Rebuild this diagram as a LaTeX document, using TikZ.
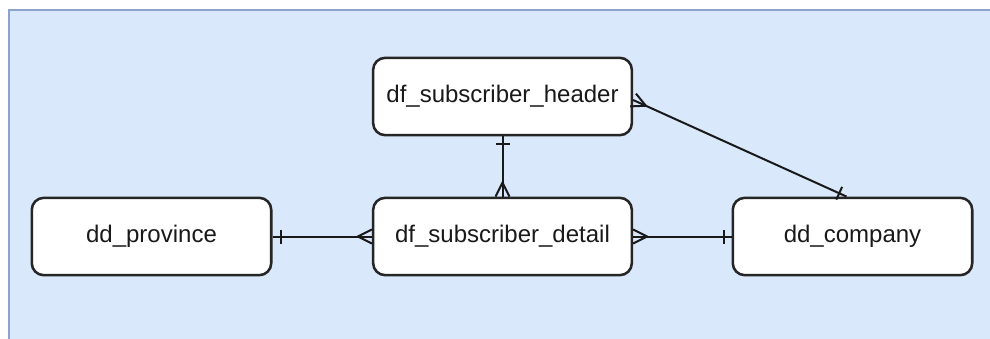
\documentclass[tikz,border=0pt]{standalone}
\usepackage{fontspec}
\setmainfont{Liberation Sans}
\usetikzlibrary{calc}
\definecolor{bgfill}{HTML}{DAE8FC}
\definecolor{bgline}{HTML}{8EA2CE}
\newcommand\ercrow[2]{% foot at #1, line towards #2
  \draw[rel] ($(#1)!5.25pt!90:(#2)$) -- ($(#1)!10.5pt!(#2)$) -- ($(#1)!5.25pt!-90:(#2)$);}
\newcommand\erbar[2]{% bar near #1, line towards #2
  \draw[rel] ($($(#1)!6pt!(#2)$)!5.25pt!90:(#2)$) -- ($($(#1)!6pt!(#2)$)!5.25pt!-90:(#2)$);}
\begin{document}
\begin{tikzpicture}[x=0.75pt,y=-0.75pt,
  entity/.style={draw=black!85,line width=1.9pt,fill=white,rounded corners=9pt,
    minimum height=58pt,inner sep=0pt,font=\fontsize{18}{21}\selectfont,text=black!90},
  wide/.style={entity,minimum width=194pt},
  narrow/.style={entity,minimum width=179.6pt},
  rel/.style={line width=1.5pt,draw=black!90}]
\useasboundingbox (0,0) rectangle (990,339);
\fill[bgfill] (9,10) rectangle (1000,350);
\draw[bgline,line width=1.6pt] (9,350) -- (9,10) -- (1000,10);

\node[wide] (header) at (502.5,96.5) {df\_subscriber\_header};
\node[wide] (detail) at (502.5,236.5) {df\_subscriber\_detail};
\node[narrow] (province) at (151.5,236.5) {dd\_province};
\node[narrow] (company) at (852.5,236.5) {dd\_company};

\coordinate (hc) at ($(header.east)+(0,3.5)$);
\coordinate (ch) at ($(company.north)+(-6,0)$);

\draw[rel] (header.south) -- (detail.north);
\erbar{header.south}{detail.north}
\ercrow{detail.north}{header.south}

\draw[rel] (province.east) -- (detail.west);
\erbar{province.east}{detail.west}
\ercrow{detail.west}{province.east}

\draw[rel] (detail.east) -- (company.west);
\ercrow{detail.east}{company.west}
\erbar{company.west}{detail.east}

\draw[rel] (hc) -- (ch);
\ercrow{hc}{ch}
\erbar{ch}{hc}
\end{tikzpicture}
\end{document}
